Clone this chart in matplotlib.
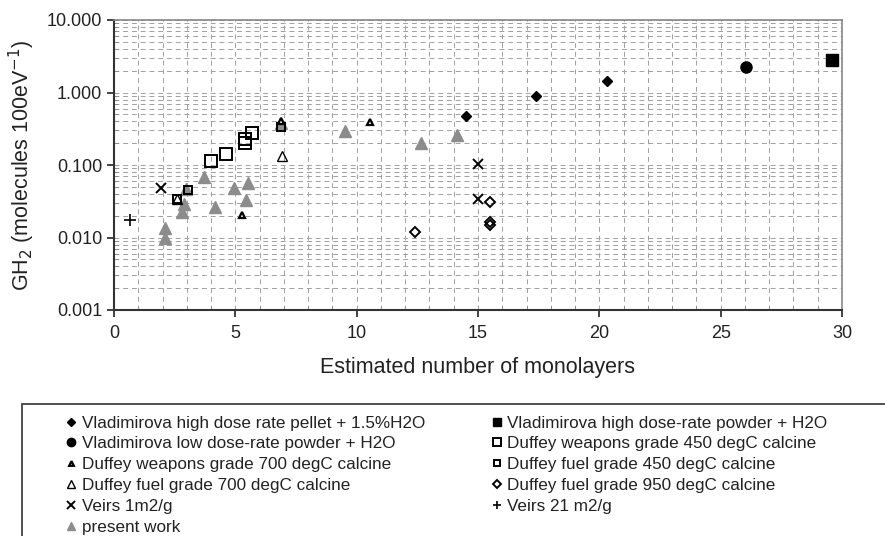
import matplotlib
matplotlib.use('Agg')
import matplotlib.pyplot as plt
from matplotlib.ticker import MultipleLocator, FormatStrFormatter, LogLocator, NullFormatter
from matplotlib.patches import Rectangle

plt.rcParams['font.family'] = ['Liberation Sans', 'DejaVu Sans']

# data
pellet_x = [14.5, 17.4, 20.3]
pellet_y = [0.48, 0.90, 1.43]
powder_hi_x = [29.6]
powder_hi_y = [2.8]
powder_lo_x = [26.05]
powder_lo_y = [2.27]
weap450_x = [4.0, 4.62, 5.38, 5.38, 5.68]
weap450_y = [0.114, 0.142, 0.23, 0.20, 0.279]
fuel450_x = [2.61, 3.05, 6.9]
fuel450_y = [0.0336, 0.0452, 0.335]
weap700_x = [5.29, 10.56, 6.9]
weap700_y = [0.0205, 0.39, 0.40]
fuel700_x = [6.92, 2.61]
fuel700_y = [0.133, 0.0336]
fuel950_x = [12.4, 15.48, 15.5, 15.5]
fuel950_y = [0.0118, 0.0312, 0.0164, 0.0147]
veirs1_x = [1.95, 15.0, 14.98]
veirs1_y = [0.0475, 0.102, 0.0336]
veirs21_x = [0.65]
veirs21_y = [0.0174]
present_x = [2.12, 2.1, 2.97, 2.88, 2.82, 3.71, 4.17, 4.95, 5.52, 5.43, 6.9, 9.53, 12.64, 14.15]
present_y = [0.0134, 0.0099, 0.046, 0.029, 0.0227, 0.069, 0.0266, 0.0487, 0.0558, 0.0329, 0.38, 0.29, 0.199, 0.259]

fig = plt.figure(figsize=(8.85, 5.36), dpi=100)
ax = fig.add_axes([114/885, 1-310/536, 728/885, 290/536])

ax.set_yscale('log')
ax.set_xlim(0, 30)
ax.set_ylim(0.001, 10)

grid_kw = dict(color='#a0a0a0', lw=0.7, ls=(0, (5, 4)))
ax.xaxis.set_major_locator(MultipleLocator(5))
ax.xaxis.set_minor_locator(MultipleLocator(1))
ax.yaxis.set_major_locator(LogLocator(base=10))
ax.yaxis.set_minor_locator(LogLocator(base=10, subs=range(2, 10)))
ax.yaxis.set_major_formatter(FormatStrFormatter('%.3f'))
ax.yaxis.set_minor_formatter(NullFormatter())
ax.grid(which='both', **grid_kw)
ax.set_axisbelow(True)

ax.tick_params(which='major', direction='out', length=5, width=1.2, labelsize=13, colors='#222')
ax.tick_params(axis='x', which='major', pad=6)
ax.tick_params(which='minor', direction='in', length=3, width=0.6, color='#888')
for s in ['left', 'bottom']:
    ax.spines[s].set_linewidth(1.5)
    ax.spines[s].set_color('#333')
for s in ['top', 'right']:
    ax.spines[s].set_linewidth(1.2)
    ax.spines[s].set_color('#888')

k = dict(ls='none', markeredgecolor='black')
h = {}
h['pellet'], = ax.plot(pellet_x, pellet_y, marker='D', ms=5.5, color='black', **k)
h['powder_hi'], = ax.plot(powder_hi_x, powder_hi_y, marker='s', ms=8, color='black', **k)
h['powder_lo'], = ax.plot(powder_lo_x, powder_lo_y, marker='o', ms=8, color='black', **k)
h['present'], = ax.plot(present_x, present_y, marker='^', ms=8.5, color='#8c8c8c', markeredgecolor='#8c8c8c', ls='none')
h['weap450'], = ax.plot(weap450_x, weap450_y, marker='s', ms=8.5, mfc='none', mew=1.4, **k)
h['fuel450'], = ax.plot(fuel450_x, fuel450_y, marker='s', ms=6, mfc='none', mew=1.4, **k)
h['weap700'], = ax.plot(weap700_x, weap700_y, marker='^', ms=4.5, mfc='white', mew=1.6, **k)
h['fuel700'], = ax.plot(fuel700_x, fuel700_y, marker='^', ms=7, mfc='none', mew=1.0, **k)
h['fuel950'], = ax.plot(fuel950_x, fuel950_y, marker='D', ms=5, mfc='none', mew=1.4, **k)
h['veirs1'], = ax.plot(veirs1_x, veirs1_y, marker='x', ms=7, mew=1.4, color='black', **k)
h['veirs21'], = ax.plot(veirs21_x, veirs21_y, marker='+', ms=8, mew=1.2, color='black', **k)

ax.set_xlabel('Estimated number of monolayers', fontsize=15.5, color='#222')
ax.xaxis.set_label_coords(0.5, -(367-310)/290, transform=ax.transAxes)
ax.xaxis.label.set_va('center')
ax.set_ylabel('GH$_2$ (molecules 100eV$^{-1}$)', fontsize=15.5, color='#222')
ax.yaxis.set_label_coords(-(114-22)/728, 0.5)
ax.yaxis.label.set_va('center')

order = ['pellet', 'powder_lo', 'weap700', 'fuel700', 'veirs1', 'present',
         'powder_hi', 'weap450', 'fuel450', 'fuel950', 'veirs21']
labels = {
    'pellet': 'Vladimirova high dose rate pellet + 1.5%H2O',
    'powder_hi': 'Vladimirova high dose-rate powder + H2O',
    'powder_lo': 'Vladimirova low dose-rate powder + H2O',
    'weap450': 'Duffey weapons grade 450 degC calcine',
    'weap700': 'Duffey weapons grade 700 degC calcine',
    'fuel450': 'Duffey fuel grade 450 degC calcine',
    'fuel700': 'Duffey fuel grade 700 degC calcine',
    'fuel950': 'Duffey fuel grade 950 degC calcine',
    'veirs1': 'Veirs 1m2/g',
    'veirs21': 'Veirs 21 m2/g',
    'present': 'present work',
}
leg = fig.legend([h[n] for n in order], [labels[n] for n in order], ncol=2,
                 loc='upper left', bbox_to_anchor=(58/885, 1-407/536),
                 frameon=False, fontsize=12.3, handlelength=0.55, handletextpad=0.35,
                 labelspacing=0.34, columnspacing=3.9, borderpad=0, markerscale=0.75)
for t in leg.get_texts():
    t.set_color('#222')

fig.patches.append(Rectangle((22/885, -0.1), 1.0, (1-404/536) + 0.1, transform=fig.transFigure,
                             fill=False, edgecolor='#333', lw=1.2))

fig.savefig('out.png', dpi=100)
